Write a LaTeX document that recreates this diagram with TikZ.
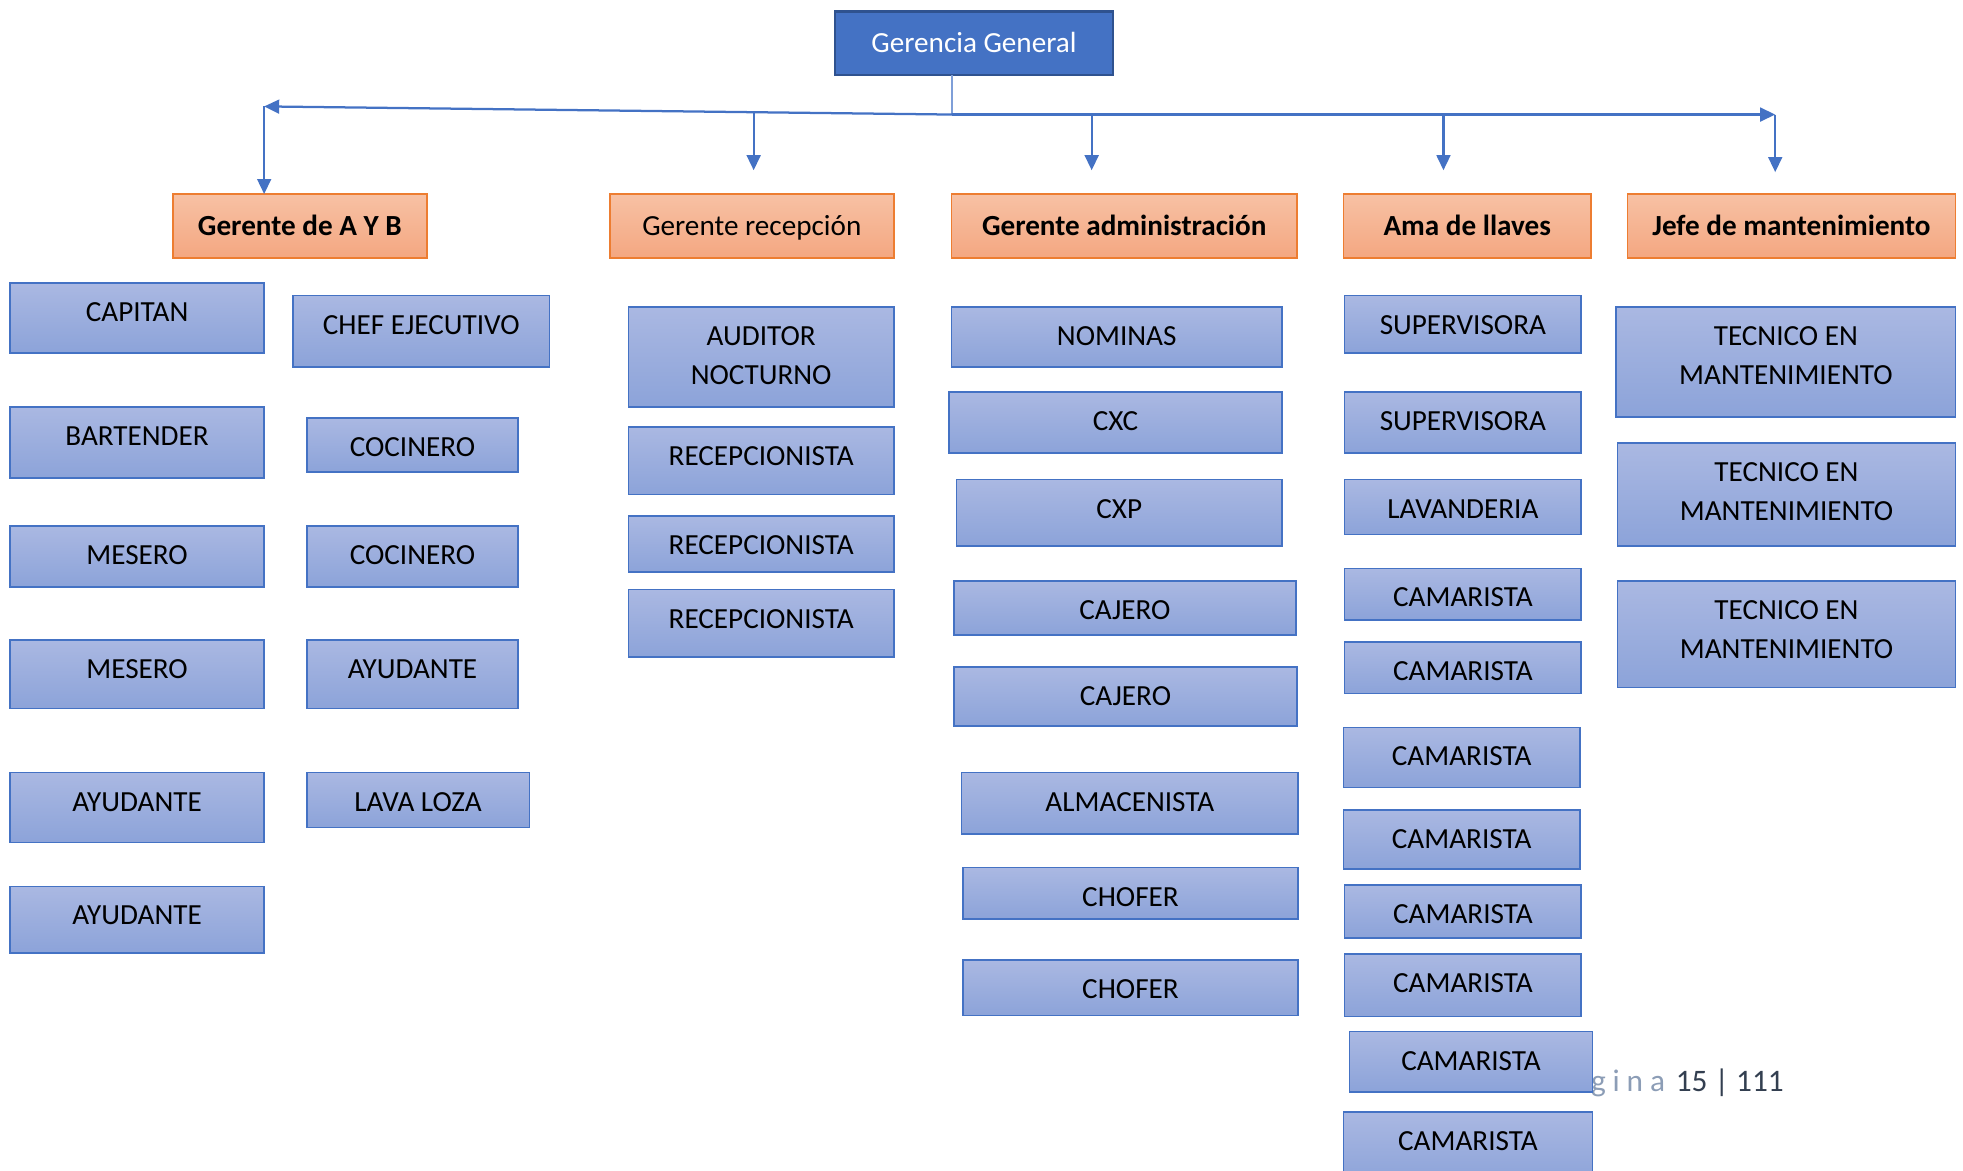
\documentclass[tikz,border=0pt]{standalone}
\usepackage{fontspec}
\setmainfont{Carlito}
\usetikzlibrary{arrows.meta}

\definecolor{accBlue}{HTML}{4472C4}
\definecolor{ggBorder}{HTML}{2F528F}
\definecolor{stemBlue}{HTML}{7F9FD8}
\definecolor{orTop}{HTML}{F7C1A4}
\definecolor{orBot}{HTML}{F4A781}
\definecolor{orLine}{HTML}{ED7D31}
\definecolor{blTop}{HTML}{AAB8E2}
\definecolor{blBot}{HTML}{8CA3D9}
\definecolor{pgGrey}{HTML}{8C9DB6}
\definecolor{pgDark}{HTML}{333F50}

\tikzset{
  boxfont/.style={font=\fontsize{23.3}{31}\selectfont},
  staff/.style={draw=accBlue, line width=1.3pt, top color=blTop, bottom color=blBot,
    inner sep=0pt, outer sep=0pt},
  head/.style={draw=orLine, line width=1.3pt, top color=orTop, bottom color=orBot,
    inner sep=0pt, outer sep=0pt},
  lbl/.style={boxfont, anchor=base, inner sep=0pt, text=black},
  conn/.style={draw=accBlue, line width=1.8pt},
  tip/.style={-{Triangle[length=12pt,width=11pt]}},
}

% staff box: name, x1, y1, x2, y2, text (first line placed a fixed distance below the top edge)
\newcommand\staffbox[6]{%
  \node[staff, minimum width={(#4-#2)*1pt}, minimum height={(#5-#3)*1pt}]
    (#1) at ({(#2+#4)/2},{(#3+#5)/2}) {};
  \node[lbl] (#1-t) at ({(#2+#4)/2},{#3+30.8})
    {\begin{tabular}[t]{@{}c@{}}#6\end{tabular}};}

% department head box: [weight], name, x1, y1, x2, y2, text
\newcommand\headbox[7][\bfseries]{%
  \node[head, minimum width={(#5-#3)*1pt}, minimum height={(#6-#4)*1pt}]
    (#2) at ({(#3+#5)/2},{(#4+#6)/2}) {};
  \node[lbl] (#2-t) at ({(#3+#5)/2},{(#4+#6)/2+7.5}) {#1#7};}

\begin{document}
\begin{tikzpicture}[x=1pt, y=-1pt]
\useasboundingbox (0,0) rectangle (1568,935);
\clip (0,0) rectangle (1568,935);

% page footer (partly covered by the boxes)
\node[font=\fontsize{25}{30}\selectfont, anchor=base east, inner sep=0pt, text=pgDark]
  (pg) at (1425,872)
  {{\color{pgGrey}\addfontfeature{LetterSpace=22}Página}\hspace{3pt} 15 | 111};

% top of the chart
\node[fill=accBlue, draw=ggBorder, line width=2pt, minimum width=222pt, minimum height=51pt,
  inner sep=0pt, outer sep=0pt] (gg) at (778,34.5) {};
\node[lbl, text=white] (gg-t) at (778,42) {Gerencia General};

% department heads
\headbox{hAB}{138}{155}{341}{206}{Gerente de A Y B}
\headbox[]{hRec}{487}{155}{714}{206}{Gerente recepción}
\headbox{hAdm}{760}{155}{1036}{206}{Gerente administración}
\headbox{hAma}{1073}{155}{1271}{206}{Ama de llaves}
\headbox{hMan}{1300}{155}{1562}{206}{Jefe de mantenimiento}

% connectors
\coordinate (j0) at (760.5,91.5);
\coordinate (jL) at (211,85);
\coordinate (jR) at (1418,91.5);
\coordinate (sRec) at (602,89.8);
\coordinate (aRec) at (602,136);
\coordinate (sAdm) at (872,91.5);
\coordinate (aAdm) at (872,136);
\coordinate (sAma) at (1153,91.5);
\coordinate (aAma) at (1153,136);
\coordinate (aMan) at (1418,137.5);
\draw[draw=stemBlue, line width=1.3pt] (j0 |- gg.south) -- (j0);
\draw[conn, tip] (j0) -- (jL);
\draw[conn, tip] (jL) -- (hAB.north -| jL);
\draw[conn, tip] (j0) -- (jR);
\draw[conn, tip] (jR) -- (aMan);
\draw[conn, tip] (sRec) -- (aRec);
\draw[conn, tip] (sAdm) -- (aAdm);
\draw[conn, tip] (sAma) -- (aAma);

% alimentos y bebidas
\staffbox{ab1}{8}{226}{211}{282}{CAPITAN}
\staffbox{ab2}{8}{325}{211}{382}{BARTENDER}
\staffbox{ab3}{8}{420}{211}{469}{MESERO}
\staffbox{ab4}{8}{511}{211}{566}{MESERO}
\staffbox{ab5}{8}{617}{211}{673}{AYUDANTE}
\staffbox{ab6}{8}{708}{211}{761}{AYUDANTE}
\staffbox{co1}{234}{236}{439}{293}{CHEF EJECUTIVO}
\staffbox{co2}{245}{334}{414}{377}{COCINERO}
\staffbox{co3}{245}{420}{414}{469}{COCINERO}
\staffbox{co4}{245}{511}{414}{566}{AYUDANTE}
\staffbox{co5}{245}{617}{423}{661}{LAVA LOZA}

% recepcion
\staffbox{re1}{502}{245}{714}{325}{AUDITOR\\NOCTURNO}
\staffbox{re2}{502}{341}{714}{395}{RECEPCIONISTA}
\staffbox{re3}{502}{412}{714}{457}{RECEPCIONISTA}
\staffbox{re4}{502}{471}{714}{525}{RECEPCIONISTA}

% administracion
\staffbox{ad1}{760}{245}{1024}{293}{NOMINAS}
\staffbox{ad2}{758}{313}{1024}{362}{CXC}
\staffbox{ad3}{764}{383}{1024}{436}{CXP}
\staffbox{ad4}{762}{464}{1035}{507}{CAJERO}
\staffbox{ad5}{762}{533}{1036}{580}{CAJERO}
\staffbox{ad6}{768}{617}{1037}{666}{ALMACENISTA}
\staffbox{ad7}{769}{693}{1037}{734}{CHOFER}
\staffbox{ad8}{769}{767}{1037}{811}{CHOFER}

% ama de llaves
\staffbox{am1}{1074}{236}{1263}{282}{SUPERVISORA}
\staffbox{am2}{1074}{313}{1263}{362}{SUPERVISORA}
\staffbox{am3}{1074}{383}{1263}{427}{LAVANDERIA}
\staffbox{am4}{1074}{454}{1263}{495}{CAMARISTA}
\staffbox{am5}{1074}{513}{1263}{554}{CAMARISTA}
\staffbox{am6}{1073}{581}{1262}{629}{CAMARISTA}
\staffbox{am7}{1073}{647}{1262}{694}{CAMARISTA}
\staffbox{am8}{1074}{707}{1263}{749}{CAMARISTA}
\staffbox{am9}{1074}{762}{1263}{812}{CAMARISTA}
\staffbox{am10}{1078}{824}{1272}{872}{CAMARISTA}
\staffbox{am11}{1073}{888}{1272}{945}{CAMARISTA}

% mantenimiento
\staffbox{mt1}{1291}{245}{1562}{333}{TECNICO EN\\MANTENIMIENTO}
\staffbox{mt2}{1292}{354}{1562}{436}{TECNICO EN\\MANTENIMIENTO}
\staffbox{mt3}{1292}{464}{1562}{549}{TECNICO EN\\MANTENIMIENTO}
\end{tikzpicture}
\end{document}
